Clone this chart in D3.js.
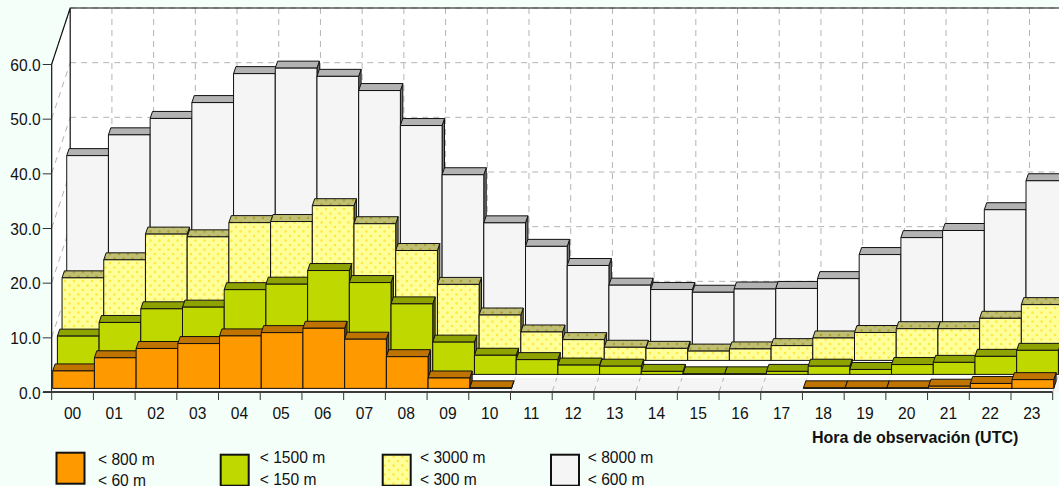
<!DOCTYPE html>
<html><head><meta charset="utf-8">
<script src="https://cdnjs.cloudflare.com/ajax/libs/d3/7.8.5/d3.min.js"></script>
<style>
html,body{margin:0;padding:0;background:#f5fffa;overflow:hidden}
svg{display:block}
text{font-family:"Liberation Sans",Arial,sans-serif;font-size:15.6px;fill:#111}
</style></head><body>
<svg id="c" width="1059" height="486"></svg>
<script>
const hours=["00","01","02","03","04","05","06","07","08","09","10","11","12","13","14","15","16","17","18","19","20","21","22","23"];
const orangeValues=[3.2,5.6,7.3,8.2,9.6,10.2,11.0,9.0,5.8,1.9,0.1,null,null,null,null,null,null,null,0.1,0.1,0.1,0.4,0.9,1.6];
const greenValues=[7.0,9.5,12.0,12.3,15.5,16.5,19.0,16.8,12.9,5.9,3.5,2.7,1.7,1.5,0.55,0.1,0.1,0.55,1.5,0.9,1.8,2.2,3.3,4.4];
const yellowValues=[15.1,18.4,23.1,22.6,25.2,25.4,28.3,25.0,20.1,13.9,8.3,5.2,3.8,2.4,2.2,1.7,2.1,2.7,4.1,5.1,5.8,5.8,7.7,10.2];
const whiteValues=[34.9,38.7,41.7,44.6,49.9,50.9,49.4,46.8,40.4,31.4,22.6,18.3,14.8,11.2,10.4,9.9,10.5,10.6,12.4,16.8,19.9,21.2,25.0,30.3];
const yTicks=[0,10,20,30,40,50,60];
const legendTop=["< 800 m","< 1500 m","< 3000 m","< 8000 m"];
const legendBottom=["< 60 m","< 150 m","< 300 m","< 600 m"];
const xTitle="Hora de observación (UTC)";

const svg=d3.select("#c");
const x=d3.scaleBand().domain(hours).range([51.7,1052.7]);
const y=d3.scaleLinear().domain([0,60]).range([392,64]);
const depthX=d3.scaleLinear().domain([0,4]).range([0,18.7]);
const depthY=d3.scaleLinear().domain([0,4]).range([0,-56]);
const wall={dx:18.5,dy:-56};
const series=[
 {v:orangeValues,front:"#ff9900",cap:"#bf7300",side:"#7f4d00",legend:[56.5,452.7]},
 {v:greenValues,front:"#bfd900",cap:"#8fa300",side:"#5f6c00",legend:[220.7,454.7]},
 {v:yellowValues,front:"url(#pf)",cap:"url(#pc)",side:"#7f7f4c",legend:[382.7,454.7]},
 {v:whiteValues,front:"#f5f5f5",cap:"#b3b3b3",side:"#7a7a7a",legend:[551,454.7]}
];
const capD={dx:2.4,dy:-7};
const baseShift={dx:1,dy:-3.6};

const defs=svg.append("defs");
function pat(id,bg,dot){
 const p=defs.append("pattern").attr("id",id).attr("width",9).attr("height",9).attr("patternUnits","userSpaceOnUse");
 p.append("rect").attr("width",9).attr("height",9).attr("fill",bg);
 [[2,2],[6.5,6.5]].forEach(c=>p.append("circle").attr("cx",c[0]).attr("cy",c[1]).attr("r",1.25).attr("fill",dot));
}
pat("pf","#ffff99","#ffe640");
pat("pc","#bfbf73","#b0a030");

const poly=(pts)=>pts.map(p=>p.join(",")).join(" ");
const X0=x.range()[0],X1=x.range()[1],Y0=y(0),Y6=y(60);

svg.append("polygon").attr("points",poly([[X0,Y6],[X0+wall.dx,Y6+wall.dy],[1059,Y6+wall.dy],[1059,Y0+wall.dy],[X0+wall.dx,Y0+wall.dy],[X0,Y0]])).attr("fill","#fff");
svg.append("polygon").attr("points",poly([[X0,Y0],[X0+wall.dx,Y0+wall.dy],[1059,Y0+wall.dy],[1059,Y0],[X0,Y0]])).attr("fill","#f5f5f5");

const grid=svg.append("g").attr("fill","none").attr("stroke","#b4b4b4").attr("stroke-width",1).attr("stroke-dasharray","6,5");
yTicks.forEach(t=>{
 grid.append("line").attr("x1",X0+wall.dx).attr("x2",1059).attr("y1",y(t)+wall.dy).attr("y2",y(t)+wall.dy);
 grid.append("line").attr("x1",X0).attr("x2",X0+wall.dx).attr("y1",y(t)).attr("y2",y(t)+wall.dy);
});
hours.forEach((h,i)=>{
 const xx=x(h)+x.bandwidth();
 grid.append("line").attr("x1",xx+wall.dx).attr("x2",xx+wall.dx).attr("y1",Y6+wall.dy).attr("y2",Y0+wall.dy);
 grid.append("line").attr("x1",xx).attr("x2",xx+wall.dx).attr("y1",Y0).attr("y2",Y0+wall.dy);
});
svg.append("path").attr("d",`M${X0},${Y0}V${Y6}L${X0+wall.dx},${Y6+wall.dy}H1059M${X0+wall.dx},${Y6+wall.dy}V${Y0+wall.dy}`).attr("fill","none").attr("stroke","#111").attr("stroke-width",1.2);

const w=x.bandwidth();
for(let s=3;s>=0;s--){
 const S=series[s];
 const ox=baseShift.dx+depthX(s), oy=baseShift.dy+depthY(s);
 const g=svg.append("g");
 hours.forEach((h,i)=>{
  if(S.v[i]==null) return;
  const lx=x(h)+ox, rx=lx+w;
  g.append("polygon").attr("points",poly([[lx-1.2,Y0],[rx-1.2,Y0],[rx+3.5,Y0-14],[lx+3.5,Y0-14]].map(p=>[p[0],p[1]+(oy-baseShift.dy)]))).attr("fill","#fff");
 });
 hours.forEach((h,i)=>{
  if(S.v[i]==null) return;
  const lx=x(h)+ox, rx=lx+w, by=Y0+oy, ty=y(S.v[i])+oy;
  const st={stroke:"#111","stroke-width":1,"stroke-linejoin":"round"};
  const a=(sel)=>{Object.entries(st).forEach(([k,v])=>sel.attr(k,v));return sel;};
  a(g.append("polygon")).attr("points",poly([[rx,by],[rx+capD.dx,by+capD.dy],[rx+capD.dx,ty+capD.dy],[rx,ty]])).attr("fill",S.side);
  a(g.append("polygon")).attr("points",poly([[lx,ty],[lx+capD.dx,ty+capD.dy],[rx+capD.dx,ty+capD.dy],[rx,ty]])).attr("fill",S.cap);
  a(g.append("rect")).attr("x",lx).attr("y",ty).attr("width",w).attr("height",by-ty).attr("fill",S.front);
 });
}

const gx=svg.append("g").attr("transform",`translate(0,${Y0})`).call(d3.axisBottom(x).tickSize(0).tickPadding(17));
gx.select(".domain").remove();
gx.selectAll("text").attr("fill","#111").style("font-size","15.6px").attr("dy",null).attr("y",27);
d3.range(25).forEach(i=>{
 svg.append("line").attr("x1",X0+i*w).attr("x2",X0+i*w).attr("y1",Y0).attr("y2",Y0+8).attr("stroke","#333").attr("stroke-width",1);
});
svg.append("line").attr("x1",43).attr("x2",X1).attr("y1",Y0).attr("y2",Y0).attr("stroke","#3c3c3c").attr("stroke-width",2);

const gy=svg.append("g").attr("transform",`translate(${X0},0)`).call(d3.axisLeft(y).tickValues(yTicks).tickFormat(d3.format(".1f")).tickSize(9).tickPadding(2));
gy.select(".domain").remove();
gy.selectAll("line").attr("stroke","#333");
gy.selectAll("text").attr("fill","#111").style("font-size","15.6px").attr("dy",null).attr("y",6);

svg.append("text").attr("x",1018.3).attr("y",443).attr("text-anchor","end").attr("font-weight","bold").style("font-size","16px").text(xTitle);

const legX=[98,259.7,420,587.7], legY1=[465,463.3,463.3,463.3], legY2=[485.7,485,485,485];
series.forEach((S,i)=>{
 svg.append("rect").attr("x",S.legend[0]).attr("y",S.legend[1]).attr("width",28).attr("height",31)
  .attr("fill",S.front).attr("stroke","#111").attr("stroke-width",2);
 svg.append("text").attr("x",legX[i]).attr("y",legY1[i]).text(legendTop[i]);
 svg.append("text").attr("x",legX[i]).attr("y",legY2[i]).text(legendBottom[i]);
});
</script>
</body></html>
